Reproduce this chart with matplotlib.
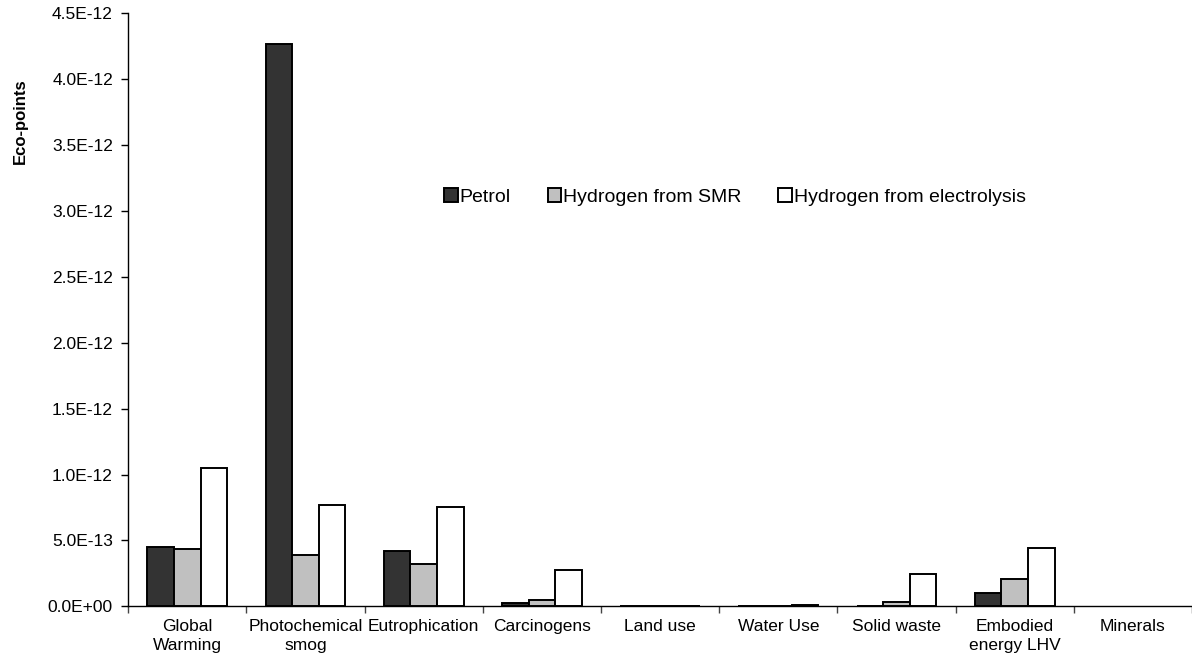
import matplotlib
matplotlib.use("Agg")
import matplotlib.pyplot as plt
import numpy as np

plt.rcParams['font.family'] = ['Liberation Sans', 'DejaVu Sans']

categories = ["Global\nWarming", "Photochemical\nsmog", "Eutrophication", "Carcinogens",
              "Land use", "Water Use", "Solid waste", "Embodied\nenergy LHV", "Minerals"]
series_names = ["Petrol", "Hydrogen from SMR", "Hydrogen from electrolysis"]
petrol = [0.453e-12, 4.27e-12, 0.418e-12, 0.022e-12, 0.005e-12, 0.002e-12, 0.003e-12, 0.100e-12, 0.0]
smr = [0.436e-12, 0.390e-12, 0.322e-12, 0.045e-12, 0.003e-12, 0.002e-12, 0.030e-12, 0.205e-12, 0.0]
electro = [1.052e-12, 0.769e-12, 0.754e-12, 0.275e-12, 0.003e-12, 0.010e-12, 0.248e-12, 0.440e-12, 0.0]
yticks = [0, 0.5e-12, 1.0e-12, 1.5e-12, 2.0e-12, 2.5e-12, 3.0e-12, 3.5e-12, 4.0e-12, 4.5e-12]
ytick_labels = ["0.0E+00", "5.0E-13", "1.0E-12", "1.5E-12", "2.0E-12", "2.5E-12",
                "3.0E-12", "3.5E-12", "4.0E-12", "4.5E-12"]

colors = ["#333333", "#c0c0c0", "#ffffff"]

fig = plt.figure(figsize=(11.92, 6.6), dpi=100)
ax = fig.add_axes([0.1076, 0.0814, 0.8924, 0.8984])

x = np.arange(len(categories))
w = 0.225
for i, (vals, name) in enumerate(zip([petrol, smr, electro], series_names)):
    lws = [1.4 if v > 0 else 0 for v in vals]
    ax.bar(x + (i - 1) * w, vals, width=w, color=colors[i], edgecolor="black",
           linewidth=lws, label=name, zorder=3)

ax.set_xlim(-0.5, len(categories) - 0.5)
ax.set_ylim(0, 4.5e-12)
ax.set_yticks(yticks)
ax.set_yticklabels(ytick_labels, fontsize=12.5)
ax.set_xticks(x)
ax.set_xticklabels(categories, fontsize=12.5, linespacing=1.35)
ax.tick_params(axis='x', length=0, pad=9)
ax.set_xticks(np.arange(-0.5, len(categories) + 0.5, 1), minor=True)
ax.tick_params(axis='x', which='minor', length=5, direction='out', width=1, color='#444444')
ax.tick_params(axis='y', length=5, direction='out', width=1, pad=6)

for s in ['top', 'right']:
    ax.spines[s].set_visible(False)
for s in ['left', 'bottom']:
    ax.spines[s].set_linewidth(1.0)
    ax.spines[s].set_color('black')

ax.set_ylabel("Eco-points", fontsize=12, fontweight='bold')
ax.yaxis.set_label_coords(-0.094, 0.818)

leg = ax.legend(loc='center', bbox_to_anchor=(735 / 1192, 1 - 197 / 660),
                bbox_transform=fig.transFigure, ncol=3, frameon=False,
                fontsize=14, handlelength=0.7, handleheight=0.7,
                handletextpad=0.1, columnspacing=1.9)

fig.savefig("out.png", dpi=100)
